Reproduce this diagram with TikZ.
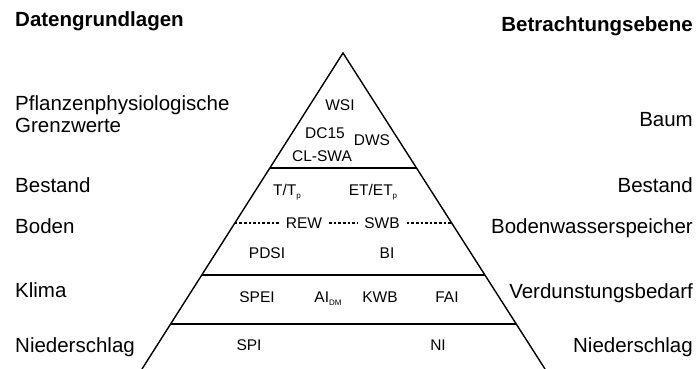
\documentclass[tikz,border=0pt]{standalone}
\usepackage{fontspec}
\setmainfont{Liberation Sans}
\usetikzlibrary{calc}
\newcommand{\lowidx}[1]{\raisebox{-0.35ex}{\fontsize{8}{8}\selectfont #1}}

\begin{document}
\begin{tikzpicture}[x=1pt, y=-1pt,
    head/.style={font=\fontsize{20.5}{22}\selectfont\bfseries, inner sep=0pt},
    level/.style={font=\fontsize{20.5}{22}\selectfont, inner sep=0pt},
    idx/.style={font=\fontsize{15.5}{18}\selectfont, anchor=base, inner sep=0pt},
    edge/.style={line width=1.4pt},
    sep/.style={dash pattern=on 2.6pt off 2pt, line width=1.1pt}
]

\useasboundingbox (0,0) rectangle (697,369);

% Headings
\node at (15,27) [head, anchor=base west] (dat) {Datengrundlagen};
\node at (693,32) [head, anchor=base east] (betr) {Betrachtungsebene};

% Data basis (left)
\node at (15,95.5) [level, anchor=north west, align=left] (pfl) {Pflanzenphysiologische\\Grenzwerte};
\node at (15,192) [level, anchor=base west] (bestl) {Bestand};
\node at (15,233) [level, anchor=base west] (boden) {Boden};
\node at (15,297) [level, anchor=base west] (klima) {Klima};
\node at (15,352) [level, anchor=base west] (nsl) {Niederschlag};

% Level of view (right)
\node at (693,126) [level, anchor=base east] (baum) {Baum};
\node at (693,192) [level, anchor=base east] (bestr) {Bestand};
\node at (693,233) [level, anchor=base east] (bws) {Bodenwasserspeicher};
\node at (693,298) [level, anchor=base east] (verd) {Verdunstungsbedarf};
\node at (693,352) [level, anchor=base east] (nsr) {Niederschlag};

% Pyramid
\coordinate (apex) at (343,53);
\coordinate (bl) at (142,369);
\coordinate (br) at (545,369);
\draw [edge] (bl) -- (apex) -- (br);
\draw [edge] ($(apex)!0.364!(bl)$) -- ($(apex)!0.364!(br)$);
\draw [edge] ($(apex)!0.703!(bl)$) -- ($(apex)!0.703!(br)$);
\draw [edge] ($(apex)!0.858!(bl)$) -- ($(apex)!0.858!(br)$);

% Tree
\node at (340,110.5) [idx] (wsi) {WSI};
\node at (325,138.5) [idx] (dc) {DC15};
\node at (372,146) [idx] (dws) {DWS};
\node at (322,161.5) [idx] (clswa) {CL-SWA};

% Stand
\node at (287,195.5) [idx] (ttp) {T/T\lowidx{p}};
\node at (373,195.5) [idx] (etp) {ET/ET\lowidx{p}};

% Soil water storage
\node at (304,228.5) [idx, inner xsep=7pt] (rew) {REW};
\node at (382,228.5) [idx, inner xsep=7pt] (swb) {SWB};
\coordinate (dl) at ($(apex)!0.538!(bl)$);
\coordinate (dr) at ($(apex)!0.538!(br)$);
\draw [sep] (dl) -- (dl -| rew.west);
\draw [sep] (dl -| rew.east) -- (dl -| swb.west);
\draw [sep] (dl -| swb.east) -- (dr);
\node at (267,258.5) [idx] (pdsi) {PDSI};
\node at (387,258.5) [idx] (bi) {BI};

% Evaporative demand
\node at (257,302.5) [idx] (spei) {SPEI};
\node at (328,302.5) [idx] (ai) {AI\lowidx{DM}};
\node at (380,302.5) [idx] (kwb) {KWB};
\node at (447,302.5) [idx] (fai) {FAI};

% Precipitation
\node at (249,350.5) [idx] (spi) {SPI};
\node at (438,350.5) [idx] (ni) {NI};

\end{tikzpicture}
\end{document}
